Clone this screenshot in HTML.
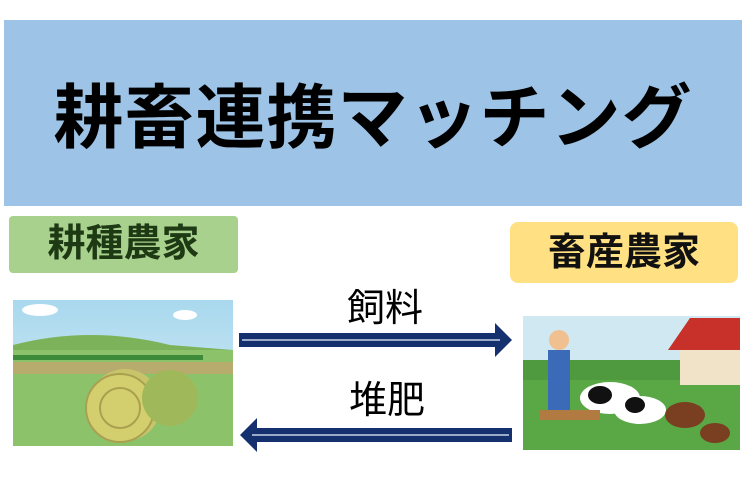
<!DOCTYPE html>
<html><head><meta charset="utf-8"><style>
body{margin:0;width:746px;height:500px;background:#fff;overflow:hidden;position:relative;font-family:"Liberation Sans","Noto Sans CJK JP",sans-serif}
.a{position:absolute}
</style></head><body>
<div class="a" style="left:4px;top:20px;width:738px;height:186px;background:#9dc3e6;"></div>
<div class="a" style="left:0;top:76px;width:746px;text-align:center;font-size:70px;font-weight:bold;line-height:84px;color:#000;letter-spacing:1px">耕畜連携マッチング</div>
<div class="a" style="left:9px;top:216px;width:229px;height:57px;background:#a9d18e;border-radius:4px;text-align:center;font-size:38px;font-weight:bold;line-height:57px;color:#1e3a14">耕種農家</div>
<div class="a" style="left:510px;top:222px;width:228px;height:61px;background:#ffe082;border-radius:8px;text-align:center;font-size:38px;font-weight:bold;line-height:63px;color:#111">畜産農家</div>
<svg class="a" style="left:0;top:0" width="746" height="500">
<defs><linearGradient id="sky" x1="0" y1="0" x2="0" y2="1"><stop offset="0" stop-color="#a9d8ee"/><stop offset="1" stop-color="#d8eef6"/></linearGradient></defs>
<rect x="13" y="300" width="220" height="146" fill="url(#sky)"/>
<path d="M13 345 Q90 325 170 345 L233 350 L233 446 L13 446Z" fill="#7cb35a"/>
<rect x="13" y="350" width="220" height="96" fill="#8cc36a"/>
<rect x="13" y="362" width="220" height="12" fill="#c9a170" opacity=".7"/>
<rect x="13" y="355" width="190" height="5" fill="#3d8a3a"/>
<circle cx="125" cy="405" r="36" fill="#c8c46a"/>
<circle cx="120" cy="408" r="34" fill="#d4cf6e" stroke="#a9a050" stroke-width="2"/>
<circle cx="120" cy="408" r="20" fill="none" stroke="#a9a050" stroke-width="2"/>
<circle cx="170" cy="398" r="28" fill="#9fb95a"/>
<ellipse cx="40" cy="310" rx="18" ry="6" fill="#fff"/><ellipse cx="185" cy="315" rx="12" ry="5" fill="#fff"/>
<rect x="523" y="316" width="217" height="134" fill="#cfe8f2"/>
<rect x="523" y="360" width="217" height="90" fill="#4f9a3e"/>
<rect x="523" y="380" width="217" height="70" fill="#5aa845"/>
<rect x="680" y="345" width="60" height="40" fill="#f1e3c8"/>
<polygon points="668,350 690,318 740,318 740,350" fill="#c8302a"/>
<rect x="548" y="350" width="22" height="60" fill="#3a6ab8"/>
<circle cx="559" cy="340" r="10" fill="#f0c090"/>
<ellipse cx="610" cy="398" rx="30" ry="16" fill="#fff"/><ellipse cx="600" cy="395" rx="12" ry="9" fill="#111"/>
<ellipse cx="640" cy="410" rx="26" ry="14" fill="#fff"/><ellipse cx="635" cy="405" rx="10" ry="8" fill="#111"/>
<ellipse cx="685" cy="415" rx="20" ry="13" fill="#7a3e20"/>
<ellipse cx="715" cy="433" rx="15" ry="10" fill="#7a3e20"/>
<rect x="540" y="410" width="60" height="10" fill="#b07a40"/>
<g fill="#14306e">
<rect x="239" y="333" width="258" height="14"/><polygon points="495,323 512,340 495,357"/>
<rect x="255" y="428" width="257" height="14"/><polygon points="257,418 240,435 257,452"/>
</g>
<g stroke="#c9d2e8" stroke-width="1.5"><line x1="242" y1="340" x2="500" y2="340"/><line x1="252" y1="435" x2="509" y2="435"/></g>
</svg>
<div class="a" style="left:330px;top:286px;width:110px;text-align:center;font-size:38px;line-height:46px;color:#000">飼料</div>
<div class="a" style="left:332px;top:378px;width:110px;text-align:center;font-size:38px;line-height:46px;color:#000">堆肥</div>
</body></html>
